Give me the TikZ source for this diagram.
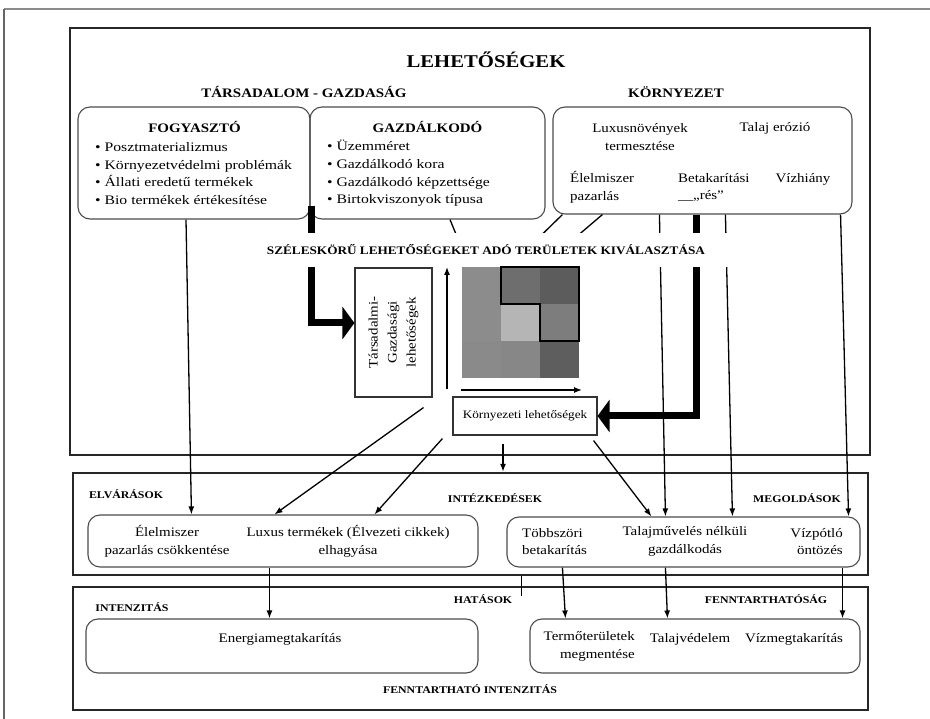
\documentclass[tikz,border=0pt]{standalone}
\usepackage{fontspec}
\setmainfont{Liberation Serif}[FakeStretch=1.15]
\newfontfamily\listfont{Liberation Serif}[FakeStretch=1.21]
\usetikzlibrary{arrows.meta,calc}

\begin{document}
\begin{tikzpicture}[x=1pt,y=-1pt]
% Stilusok
\tikzstyle{bigbox} = [draw=black!85, line width=2.2pt, inner sep=0pt]
\tikzstyle{rbox} = [draw=black!70, line width=1.1pt, rounded corners=12pt, inner sep=0pt]
\tikzstyle{sqbox} = [draw=black!80, line width=1.1pt, fill=white, inner sep=0pt]
\tikzstyle{head} = [font=\fontsize{13}{16}\selectfont\bfseries, inner sep=0pt, anchor=base]
\tikzstyle{tag} = [font=\fontsize{10.3}{12}\selectfont\bfseries, inner sep=0pt, anchor=base]
\tikzstyle{txt} = [font=\fontsize{13}{17.5}\selectfont, inner sep=0pt, align=center]
\tikzstyle{word} = [font=\fontsize{13}{16}\selectfont, inner sep=0pt, anchor=base]
\tikzstyle{bullets} = [font=\listfont\fontsize{13}{17.7}\selectfont, inner sep=0pt, align=left, anchor=west]
\tikzstyle{conn} = [line width=1.3pt, -{Latex[length=8pt,width=6pt]}]
\tikzstyle{fat} = [line width=7pt, -{Triangle[length=12pt,width=32pt]}]

\useasboundingbox (0,0) rectangle (930,719);

% Lap kerete
\draw[black!45, line width=1.5pt] (4,9) -- (930,9);
\draw[black!60, line width=1.2pt] (4,9) -- (4,719);

% Nagy dobozok
\node[bigbox, minimum width=800pt, minimum height=427pt] (lehet) at (470,241.5) {};
\node[bigbox, minimum width=795pt, minimum height=102pt] (mid) at (470.5,524) {};
\node[bigbox, minimum width=795pt, minimum height=123pt] (bot) at (470.5,648.5) {};

% Lehetosegek
\node[font=\fontsize{18}{20}\selectfont\bfseries, inner sep=0pt, anchor=base] (cim) at (486,68) {LEHETŐSÉGEK};
\node[head] (tgcim) at (304,98) {TÁRSADALOM - GAZDASÁG};
\node[head] (kcim) at (676,98) {KÖRNYEZET};

\node[rbox, minimum width=232pt, minimum height=112pt] (fogy) at (194,163) {};
\node[rbox, minimum width=235pt, minimum height=112pt] (gazd) at (427.5,163) {};
\node[rbox, minimum width=299pt, minimum height=107pt] (korny) at (702.5,160.5) {};

\node[head] (fogyc) at (194.5,133) {FOGYASZTÓ};
\node[bullets] (fogyl) at (95,173.5) {• Posztmaterializmus\\• Környezetvédelmi problémák\\• Állati eredetű termékek\\• Bio termékek értékesítése};
\node[head] (gazdc) at (427.5,133) {GAZDÁLKODÓ};
\node[bullets] (gazdl) at (327,173.5) {• Üzemméret\\• Gazdálkodó kora\\• Gazdálkodó képzettsége\\• Birtokviszonyok típusa};

\node[txt] (lux) at (640,137) {Luxusnövények\\termesztése};
\node[word] (eroz) at (775,132) {Talaj erózió};
\node[txt, align=left, anchor=west] (pazar) at (570,187.5) {Élelmiszer\\pazarlás};
\node[txt, align=left, anchor=west] (betak) at (678,187.5) {Betakarítási\\\_\_„rés”};
\node[word] (vizh) at (803,183) {Vízhiány};

% Kivalasztas
\node[sqbox, minimum width=77pt, minimum height=129pt] (tarsbox) at (393.5,332.5) {};
\node[txt, rotate=90, font=\fontsize{13}{19}\selectfont] (tarst) at (tarsbox.center) {Társadalmi-\\Gazdasági\\lehetőségek};
\node[sqbox, minimum width=144pt, minimum height=38pt, font=\fontsize{11.5}{13}\selectfont] (kornyl) at (525,416) {Környezeti lehetőségek};
\coordinate (gr) at (462,267);

% Elvarasok, intezkedesek
\node[tag] (elvc) at (126,499) {ELVÁRÁSOK};
\node[tag] (intc) at (495,503) {INTÉZKEDÉSEK};
\node[tag] (megc) at (797,502) {MEGOLDÁSOK};
\node[rbox, minimum width=390pt, minimum height=52pt] (elvl) at (283,541) {};
\node[rbox, minimum width=353pt, minimum height=50pt] (megr) at (683.5,542) {};
\node[txt] (pcs) at (167,541.5) {Élelmiszer\\pazarlás csökkentése};
\node[txt] (luxt) at (348,541.5) {Luxus termékek (Élvezeti cikkek)\\elhagyása};
\node[txt, align=left, anchor=west] (tobb) at (522,541.5) {Többszöri\\betakarítás};
\node[txt] (talm) at (685,541.5) {Talajművelés nélküli\\gazdálkodás};
\node[txt, align=right, anchor=east] (vizp) at (843,541.5) {Vízpótló\\öntözés};

% Hatasok
\node[tag] (hatc) at (483,603) {HATÁSOK};
\node[tag] (intzc) at (132,611) {INTENZITÁS};
\node[tag] (fenc) at (766,603) {FENNTARTHATÓSÁG};
\node[rbox, minimum width=392pt, minimum height=54pt] (intl) at (282,646) {};
\node[rbox, minimum width=330pt, minimum height=54pt] (fenr) at (695,646) {};
\node[word] (energ) at (280,642) {Energiamegtakarítás};
\node[txt, align=right, anchor=east] (termo) at (635,646.4) {Termőterületek\\megmentése};
\node[word] (talv) at (690,642) {Talajvédelem};
\node[word] (vizm) at (794,642) {Vízmegtakarítás};
\node[tag] (fic) at (470,693) {FENNTARTHATÓ INTENZITÁS};

% Kapcsolatok
\draw[fat] ($(fogy.south east)+(1,-14)$) |- ($(tarsbox.west)+(0,-9.5)$);
\draw[fat] ($(korny.south west)+(144,0)$) |- (kornyl.east);
\draw[line width=1.3pt] ($(gazd.south)+(22.5,0)$) -- ($(gr)+(21,33)$);
\draw[line width=1.3pt] ($(korny.south west)+(10,0)$) -- ($(gr)+(13,33)$);
\draw[line width=1.3pt] ($(korny.south west)+(50,0)$) -- ($(gr)+(40,33)$);
\draw[conn] ($(fogy.south)+(-8,0)$) -- ($(elvl.north west)+(104,0)$);
\draw[conn] ($(korny.south west)+(107,0)$) -- ($(megr.north west)+(159,0)$);
\draw[conn] ($(korny.south west)+(173,0)$) -- ($(megr.north west)+(226,0)$);
\draw[conn] ($(korny.south east)+(-12,0)$) -- ($(megr.north east)+(-12,0)$);
\draw[conn] ($(tarsbox.south east)+(-9,10)$) -- ($(elvl.north west)+(187,0)$);
\draw[conn] ($(kornyl.south west)+(-10,3)$) -- ($(elvl.north west)+(287,0)$);
\draw[conn] ($(kornyl.south east)+(-4,5)$) -- ($(megr.north west)+(145,0)$);
\draw[conn, line width=2.5pt] ($(kornyl.south)+(-22,8)$) -- ($(mid.north)+(32.5,0)$);
\draw[conn, line width=1.2pt] ($(gr)+(-15,122)$) -- ($(gr)+(-15,0)$);
\draw[conn, line width=1.2pt] ($(gr)+(-1,123)$) -- ($(gr)+(120,123)$);

\draw[conn] ($(elvl.south west)+(182,0)$) -- ($(intl.north west)+(184,0)$);
\draw[conn] ($(megr.south west)+(56,0)$) -- ($(fenr.north west)+(36,0)$);
\draw[conn] ($(megr.south west)+(159,0)$) -- ($(fenr.north west)+(138,0)$);
\draw[conn] ($(megr.south east)+(-18,0)$) -- ($(fenr.north east)+(-18,0)$);
\draw[line width=1pt] ($(mid.south west)+(450,0)$) -- ++(0,20);

% Cim es terulet-racs (a vonalak folott)
\node[font=\fontsize{11.5}{13}\selectfont\bfseries, fill=white, minimum width=540pt, minimum height=34pt, inner sep=0pt] (szeles) at (486,250) {SZÉLESKÖRŰ LEHETŐSÉGEKET ADÓ TERÜLETEK KIVÁLASZTÁSA};
\foreach \g [count=\k from 0] in {45,57,64,45,29,51,46,47,63}{
  \pgfmathtruncatemacro{\cc}{mod(\k,3)}
  \pgfmathtruncatemacro{\rr}{div(\k,3)}
  \fill[black!\g] ($(gr)+(39*\cc,37*\rr)$) rectangle ++(39,37);
}
\draw[line width=2.5pt, line join=miter] ($(gr)+(39,0)$) -- ++(0,37) -- ++(39,0) -- ++(0,37) -- ++(39,0) -- ++(0,-74) -- cycle;
\end{tikzpicture}
\end{document}
